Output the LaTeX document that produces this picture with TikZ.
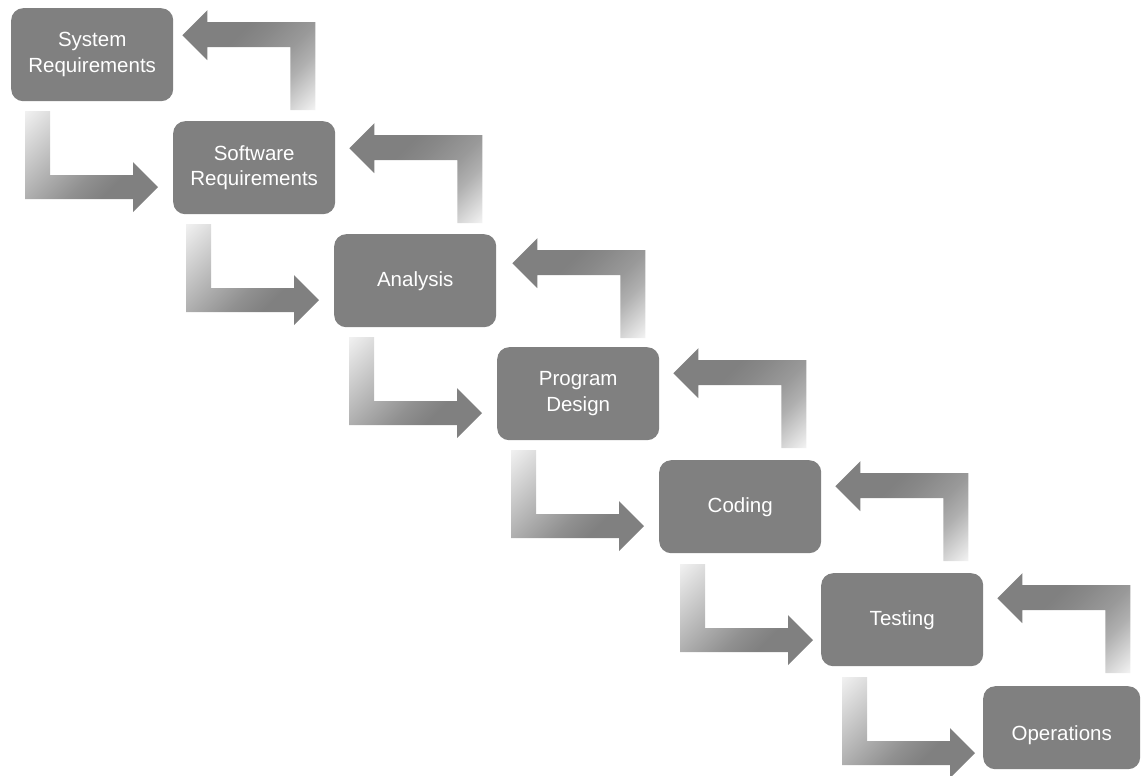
\documentclass[tikz,border=0pt]{standalone}
\usepackage{fontspec}
\setmainfont{Liberation Sans}
\usetikzlibrary{calc}
\definecolor{boxgray}{HTML}{808080}
\definecolor{fadegray}{HTML}{F2F2F2}
% gradients for the bent arrows (rotated by 45 degrees when used)
\pgfdeclareverticalshading{flowdown}{100bp}{color(0bp)=(boxgray); color(36bp)=(boxgray);
  color(46bp)=(boxgray!86!fadegray); color(57bp)=(boxgray!63!fadegray);
  color(86bp)=(fadegray); color(100bp)=(fadegray)}
\pgfdeclareverticalshading{flowup}{100bp}{color(0bp)=(fadegray); color(15bp)=(fadegray);
  color(32bp)=(boxgray!58!fadegray); color(41bp)=(boxgray!78!fadegray);
  color(53bp)=(boxgray!93!fadegray); color(61bp)=(boxgray); color(100bp)=(boxgray)}
\begin{document}
\begin{tikzpicture}[x=1pt,y=-1pt,
  stage/.style={fill=boxgray, rounded corners=12pt, minimum width=162pt,
    minimum height=93pt, inner sep=0pt, text=white, align=center,
    font=\fontsize{20.5}{25.5}\selectfont, anchor=north west},
  downflow/.style={shading=flowdown, shading angle=45},
  upflow/.style={shading=flowup, shading angle=45}]
\useasboundingbox (0,0) rectangle (1141,776);
\clip (0,0) rectangle (1141,776);

% process stages
\node[stage] (b1) at (11,8)    {System\\Requirements};
\node[stage] (b2) at (173,121) {Software\\Requirements};
\node[stage] (b3) at (334,234) {Analysis};
\node[stage] (b4) at (497,347) {Program\\Design};
\node[stage] (b5) at (659,460) {Coding};
\node[stage] (b6) at (821,573) {Testing};
\node[stage, minimum width=157pt, minimum height=83pt,
      text height=30pt, text depth=4.5pt] (b7) at (983,686) {Operations};

% forward arrows: down from a stage, then right into the next one
\foreach \tgt/\dx/\dy [count=\i] in {b2/-15/19.5, b3/-15/19.5, b4/-15/19.5,
                                     b5/-15/19.5, b6/-8/20.5, b7/-8/25.5}{
  \coordinate (d\i) at ($(\tgt.west)+(\dx,\dy)$);
  \shade[downflow, shift={(d\i)}]
    (-133,-76) -- (-108,-76) -- (-108,-12) -- (-25,-12) -- (-25,-25)
    -- (0,0) -- (-25,25) -- (-25,12) -- (-133,12) -- cycle;
}

% feedback arrows: up from beside a stage, then left into the previous one
\foreach \src/\dx/\dy [count=\i] in {b1/9/-19.5, b2/14/-19.5, b3/16/-17.5,
                                     b4/14/-20.5, b5/14/-20.5, b6/14/-21.5}{
  \coordinate (u\i) at ($(\src.east)+(\dx,\dy)$);
  \shade[upflow, shift={(u\i)}]
    (133,75) -- (108,75) -- (108,12) -- (25,12) -- (25,25)
    -- (0,0) -- (25,-25) -- (25,-13) -- (133,-13) -- cycle;
}
\end{tikzpicture}
\end{document}
